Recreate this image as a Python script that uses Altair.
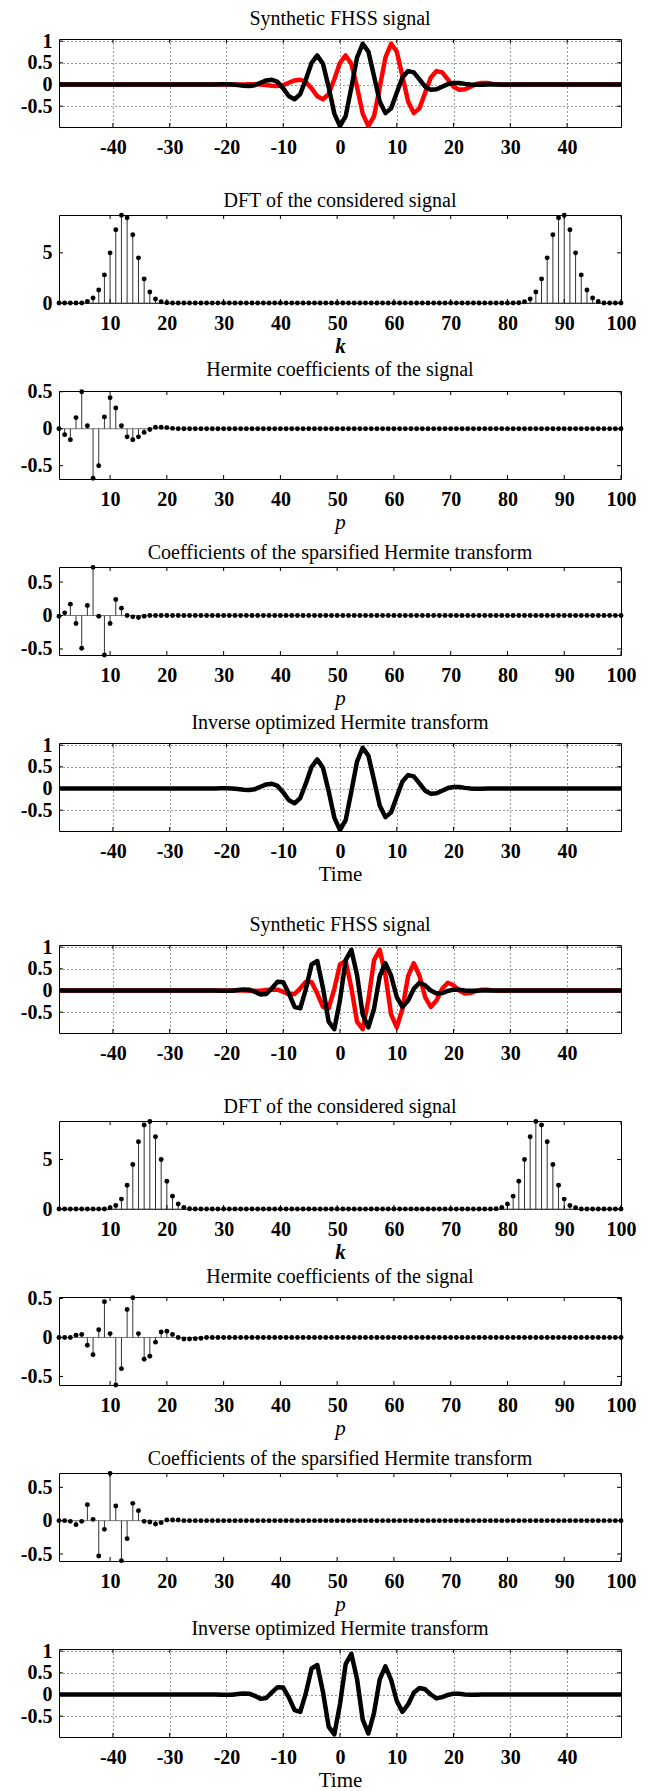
import altair as alt
import pandas as pd

# ---------------- data ----------------
time_ticks = [-40, -30, -20, -10, 0, 10, 20, 30, 40]
index_ticks = [10, 20, 30, 40, 50, 60, 70, 80, 90, 100]
sig_yticks = [-0.5, 0, 0.5, 1]
dft_yticks = [0, 5]
coef_yticks = [-0.5, 0, 0.5]

t_axis = list(range(-50, 51))
k_axis = list(range(1, 101))

# first signal, black part, t = -22 .. 26
black1_core = [0.0, 0.005, 0.005, 0.0, -0.012, -0.028, -0.035, -0.015, 0.04, 0.095,
               0.11, 0.06, -0.09, -0.27, -0.34, -0.22, 0.12, 0.50, 0.67, 0.48,
               -0.06, -0.67, -0.96, -0.73, -0.07, 0.62, 0.94, 0.76, 0.19, -0.39,
               -0.66, -0.55, -0.19, 0.16, 0.31, 0.28, 0.12, -0.05, -0.12, -0.11,
               -0.05, 0.01, 0.035, 0.035, 0.015, 0.0, -0.005, -0.003, 0.0]
# first signal, red part, t = -17 .. 31
red1_core = [0.0, 0.005, 0.005, 0.0, -0.012, -0.028, -0.035, -0.015, 0.04, 0.095,
             0.11, 0.06, -0.09, -0.27, -0.34, -0.22, 0.12, 0.50, 0.67, 0.48,
             -0.06, -0.67, -0.96, -0.73, -0.07, 0.62, 0.94, 0.76, 0.19, -0.39,
             -0.66, -0.55, -0.19, 0.16, 0.31, 0.28, 0.12, -0.05, -0.12, -0.11,
             -0.05, 0.01, 0.035, 0.035, 0.015, 0.0, -0.005, -0.003, 0.0]
# second signal, black part, t = -22 .. 26
black2_core = [0.0, -0.003, -0.007, -0.004, 0.011, 0.026, 0.02, -0.03, -0.09, -0.08,
               0.05, 0.20, 0.19, -0.07, -0.38, -0.41, 0.04, 0.60, 0.68, 0.06,
               -0.72, -0.89, -0.22, 0.70, 0.94, 0.36, -0.55, -0.85, -0.42, 0.33,
               0.63, 0.34, -0.15, -0.38, -0.23, 0.04, 0.18, 0.12, 0.0, -0.07,
               -0.06, -0.01, 0.02, 0.016, 0.003, -0.004, -0.003, 0.0, 0.0]
# second signal, red part, t = -17 .. 31
red2_core = [0.0, -0.003, -0.007, -0.004, 0.011, 0.026, 0.02, -0.03, -0.09, -0.08,
             0.05, 0.20, 0.19, -0.07, -0.38, -0.41, 0.04, 0.60, 0.68, 0.06,
             -0.72, -0.89, -0.22, 0.70, 0.94, 0.36, -0.55, -0.85, -0.42, 0.33,
             0.63, 0.34, -0.15, -0.38, -0.23, 0.04, 0.18, 0.12, 0.0, -0.07,
             -0.06, -0.01, 0.02, 0.016, 0.003, -0.004, -0.003, 0.0, 0.0]
# reconstructions (inverse optimized Hermite transform), t = -22 .. 26
inv1_core = [0.0, 0.005, 0.005, 0.0, -0.012, -0.028, -0.035, -0.015, 0.04, 0.095,
             0.11, 0.06, -0.09, -0.27, -0.34, -0.22, 0.12, 0.50, 0.67, 0.48,
             -0.06, -0.67, -0.96, -0.73, -0.07, 0.62, 0.94, 0.76, 0.19, -0.39,
             -0.66, -0.55, -0.19, 0.16, 0.31, 0.28, 0.12, -0.05, -0.12, -0.11,
             -0.05, 0.01, 0.035, 0.035, 0.015, 0.0, -0.005, -0.003, 0.0]
inv2_core = [0.0, -0.003, -0.007, -0.004, 0.011, 0.026, 0.02, -0.03, -0.10, -0.08,
             0.05, 0.17, 0.16, -0.07, -0.36, -0.40, 0.04, 0.60, 0.68, 0.06,
             -0.74, -0.92, -0.22, 0.70, 0.94, 0.36, -0.58, -0.90, -0.42, 0.35,
             0.65, 0.34, -0.15, -0.40, -0.23, 0.04, 0.15, 0.12, 0.0, -0.09,
             -0.06, -0.01, 0.02, 0.016, 0.003, -0.004, -0.003, 0.0, 0.0]

black1 = [0.0] * 28 + black1_core + [0.0] * 24
red1 = [0.0] * 33 + red1_core + [0.0] * 19
black2 = [0.0] * 28 + black2_core + [0.0] * 24
red2 = [0.0] * 33 + red2_core + [0.0] * 19
inv1 = [0.0] * 28 + inv1_core + [0.0] * 24
inv2 = [0.0] * 28 + inv2_core + [0.0] * 24

dft1 = ([0, 0, 0, 0, 0, 0.15, 0.5, 1.3, 2.8, 5.0, 7.3, 8.75, 8.5, 6.8, 4.5, 2.4, 1.1, 0.4, 0.12, 0.03]
        + [0] * 61
        + [0.03, 0.12, 0.4, 1.1, 2.4, 4.5, 6.8, 8.5, 8.75, 7.3, 5.0, 2.8, 1.3, 0.5, 0.15, 0, 0, 0, 0])
dft2 = ([0] * 9 + [0.12, 0.35, 1.0, 2.4, 4.5, 6.8, 8.5, 8.85, 7.3, 5.0, 2.8, 1.3, 0.5, 0.15, 0.03]
        + [0] * 53
        + [0.03, 0.15, 0.5, 1.3, 2.8, 5.0, 7.3, 8.85, 8.5, 6.8, 4.5, 2.4, 1.0, 0.35, 0.12] + [0] * 8)

herm1 = ([0, -0.08, -0.15, 0.15, 0.5, 0.04, -0.67, -0.5, 0.16, 0.42, 0.28, 0.04, -0.11, -0.15,
          -0.11, -0.05, -0.01, 0.02, 0.02, 0.015, 0.005] + [0] * 79)
sparse1 = ([-0.01, 0.04, 0.17, -0.12, -0.49, 0.15, 0.72, -0.01, -0.59, -0.12, 0.24, 0.11, 0.0,
            -0.02, -0.03, -0.01] + [0] * 84)
herm2 = ([0, 0, 0, 0.03, 0.04, -0.1, -0.22, 0.1, 0.46, 0.05, -0.61, -0.4, 0.36, 0.51, 0.05,
          -0.28, -0.24, -0.06, 0.07, 0.08, 0.04, 0.0, -0.02, -0.02, -0.015, -0.01] + [0] * 74)
sparse2 = ([0, 0, -0.01, -0.06, -0.01, 0.24, 0.02, -0.53, -0.13, 0.71, 0.22, -0.6, -0.27, 0.26,
            0.15, -0.01, -0.02, -0.05, -0.03, 0.01, 0.01, 0.01] + [0] * 78)

# ---------------- styling ----------------
W, H = 562, 88
FONT = "Liberation Serif"
TICK = 4
LABEL_EXPR = "replace(format(datum.value, '~g'), '\u2212', '-')"


def x_axis(values, grid, title, style):
    kw = dict(values=values, grid=grid, labelFlush=False, labelOverlap=False,
              labelExpr=LABEL_EXPR, labelPadding=10)
    if title:
        kw.update(title=title, titleFontStyle=style[0], titleFontWeight=style[1])
    else:
        kw.update(title=None)
    return alt.Axis(**kw)


def y_axis(values, grid):
    return alt.Axis(values=values, grid=grid, title=None, labelExpr=LABEL_EXPR,
                    labelOverlap=False, labelPadding=7)


def tick_layers(xname, x_enc, xticks, y_enc, yticks):
    xt = pd.DataFrame({xname: xticks})
    yt = pd.DataFrame({"v": yticks})
    layers = []
    for y0, y1 in [(0, TICK), (H, H - TICK)]:
        layers.append(alt.Chart(xt).mark_rule(color="black", strokeWidth=1).encode(
            x=x_enc, y=alt.value(y0), y2=alt.value(y1)))
    for x0, x1 in [(0, TICK), (W, W - TICK)]:
        layers.append(alt.Chart(yt).mark_rule(color="black", strokeWidth=1).encode(
            y=y_enc, x=alt.value(x0), x2=alt.value(x1)))
    return layers


def signal_panel(title, series, xtitle=None, style=("normal", "normal")):
    xs = alt.Scale(domain=[-49.5, 49.5], nice=False, zero=False)
    ys = alt.Scale(domain=[-0.98, 1.05], nice=False, zero=False)
    x_enc = alt.X("t:Q", scale=xs, axis=x_axis(time_ticks, True, xtitle, style))
    y_enc = alt.Y("v:Q", scale=ys, axis=y_axis(sig_yticks, True))
    layers = []
    for vals, color in series:
        df = pd.DataFrame({"t": t_axis, "v": vals})
        layers.append(alt.Chart(df).mark_line(color=color, strokeWidth=4.5, clip=True,
                                              strokeJoin="round").encode(x=x_enc, y=y_enc))
    layers += tick_layers("t", x_enc, time_ticks, y_enc, sig_yticks)
    return alt.layer(*layers).properties(width=W, height=H, title=title)


def stem_panel(title, vals, ydom, yticks, xtitle, style):
    xs = alt.Scale(domain=[1, 100], nice=False, zero=False)
    ys = alt.Scale(domain=ydom, nice=False, zero=False)
    x_enc = alt.X("p:Q", scale=xs, axis=x_axis(index_ticks, False, xtitle, style))
    y_enc = alt.Y("v:Q", scale=ys, axis=y_axis(yticks, False))
    df = pd.DataFrame({"p": k_axis, "v": vals, "z": [0] * len(k_axis)})
    baseline = alt.Chart(pd.DataFrame({"v": [0]})).mark_rule(color="#777777", strokeWidth=1).encode(
        y=y_enc)
    stems = alt.Chart(df).mark_rule(color="#333333", strokeWidth=1).encode(
        x=x_enc, y=y_enc, y2="z:Q")
    dots = alt.Chart(df).mark_circle(size=24, color="black", opacity=1).encode(x=x_enc, y=y_enc)
    layers = [baseline, stems, dots] + tick_layers("p", x_enc, index_ticks, y_enc, yticks)
    return alt.layer(*layers).properties(width=W, height=H, title=title)


p1 = signal_panel("Synthetic FHSS signal", [(red1, "#ff0000"), (black1, "#000000")])
p2 = stem_panel("DFT of the considered signal", dft1, [0, 8.77], dft_yticks, "k", ("italic", "bold"))
p3 = stem_panel("Hermite coefficients of the signal", herm1, [-0.68, 0.51], coef_yticks, "p", ("italic", "normal"))
p4 = stem_panel("Coefficients of the sparsified Hermite transform", sparse1, [-0.59, 0.725], coef_yticks, "p", ("italic", "normal"))
p5 = signal_panel("Inverse optimized Hermite transform", [(inv1, "#000000")], "Time", ("normal", "normal"))

p6 = signal_panel("Synthetic FHSS signal", [(red2, "#ff0000"), (black2, "#000000")])
p7 = stem_panel("DFT of the considered signal", dft2, [0, 8.9], dft_yticks, "k", ("italic", "bold"))
p8 = stem_panel("Hermite coefficients of the signal", herm2, [-0.61, 0.52], coef_yticks, "p", ("italic", "normal"))
p9 = stem_panel("Coefficients of the sparsified Hermite transform", sparse2, [-0.605, 0.715], coef_yticks, "p", ("italic", "normal"))
p10 = signal_panel("Inverse optimized Hermite transform", [(inv2, "#000000")], "Time", ("normal", "normal"))

top = alt.vconcat(p1, p2, p3, p4, p5, spacing=88, bounds="flush")
bottom = alt.vconcat(p6, p7, p8, p9, p10, spacing=88, bounds="flush")

chart = alt.vconcat(top, bottom, spacing=29).properties(
    padding={"left": 11, "top": 0, "right": 5, "bottom": 2},
    background="white"
).configure_view(
    stroke="black", strokeWidth=1, fill="white"
).configure_axis(
    domain=False, ticks=False,
    labelFont=FONT, labelFontSize=20, labelFontWeight="bold", labelColor="black",
    titleFont=FONT, titleFontSize=21, titleColor="black", titlePadding=2,
    gridColor="black", gridDash=[1, 3], gridWidth=0.8, gridOpacity=1
).configure_title(
    font=FONT, fontSize=20, fontWeight="normal", color="black", anchor="middle", offset=2
)

chart.save("out.html", embed_options={"renderer": "svg", "actions": False})
